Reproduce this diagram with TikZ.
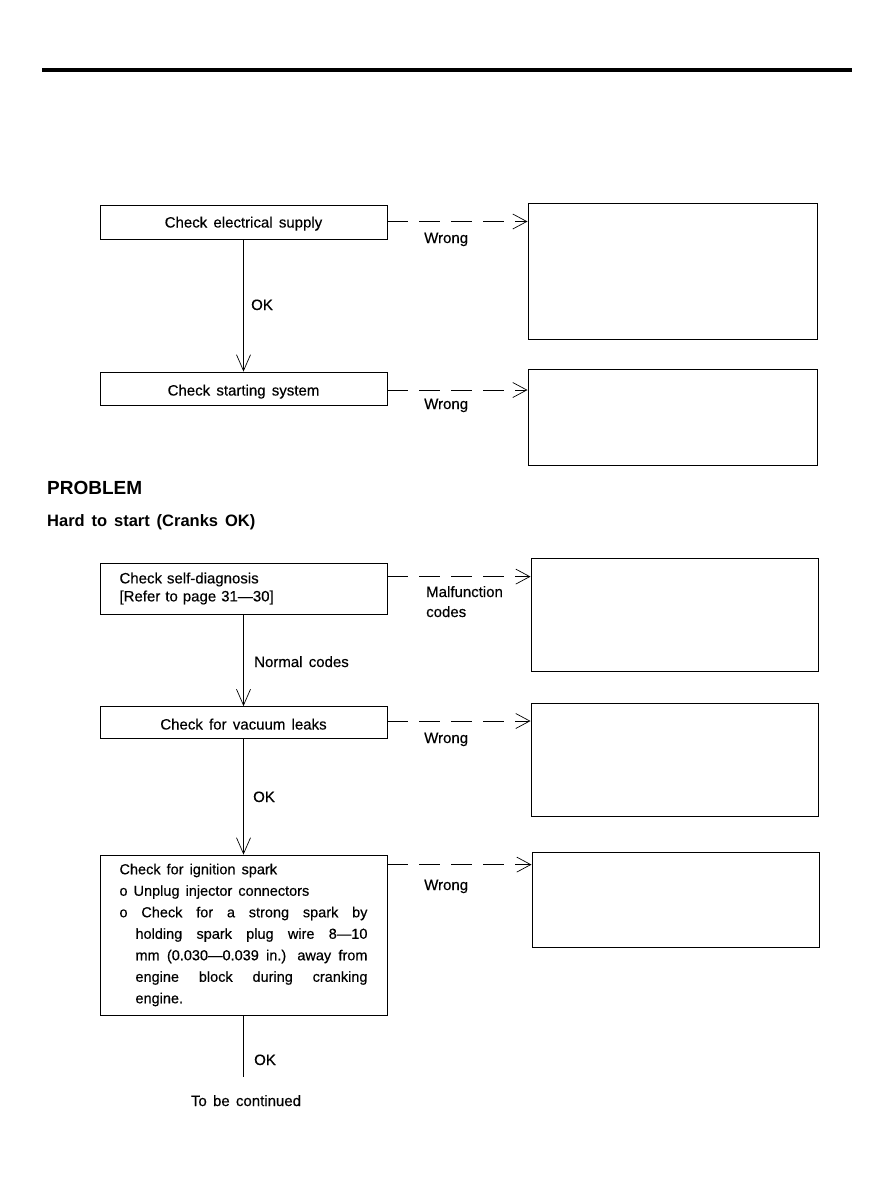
\documentclass[tikz,border=0pt]{standalone}
\usepackage{fontspec}
\setmainfont[WordSpace=1.5,UprightFeatures={FakeBold=0.35}]{Liberation Sans}
\usetikzlibrary{arrows.meta,calc}
\begin{document}
\begin{tikzpicture}[x=1pt,y=-1pt,
  box/.style={draw,line width=0.8pt,minimum width=287pt,inner sep=0pt,font=\fontsize{15}{18}\selectfont},
  rbox/.style={draw,line width=1pt,inner sep=0pt},
  lbl/.style={font=\fontsize{15}{18}\selectfont,inner sep=0pt},
  head/.style={font=\fontsize{19}{22}\selectfont\bfseries,inner sep=0pt},
  wrongarrow/.style={line width=0.7pt,dash pattern=on 21pt off 11pt,-{Straight Barb[length=14pt,width=15pt,line width=0.7pt]}},
  okarrow/.style={line width=0.7pt,-{Straight Barb[length=16pt,width=14pt,line width=0.7pt]}},
  okline/.style={line width=0.7pt},
]
\useasboundingbox (0,0) rectangle (890,1200);
\draw[line width=4pt] (42,70) coordinate (rl) -- (852,70) coordinate (rr);

% upper chart
\node[box,minimum height=34pt,text height=11pt,text depth=1pt] (b1) at (243.5,222.5) {Check electrical supply};
\node[box,minimum height=33pt,text height=14pt,text depth=0pt] (b2) at (243.5,388.5) {Check starting system};
\node[rbox,minimum width=289pt,minimum height=136pt] (r1) at (672.5,271) {};
\node[rbox,minimum width=289pt,minimum height=96pt] (r2) at (672.5,417) {};

\draw[okarrow] (b1.south) -- (b2.north);
\coordinate (w1) at ($(b1.east)+(0,-1)$);
\draw[wrongarrow] (w1) -- (w1 -| r1.west);
\coordinate (w2) at ($(b2.east)+(0,1.5)$);
\draw[wrongarrow] (w2) -- (w2 -| r2.west);

\node[lbl,anchor=base west] (ok1) at (251,310) {OK};
\node[lbl,anchor=base west] (wr1) at (424,243) {Wrong};
\node[lbl,anchor=base west] (wr2) at (424,409) {Wrong};

% headings
\node[head,anchor=base west] (prob) at (47,494.5) {PROBLEM};
\node[head,font=\fontsize{16.5}{20}\selectfont\bfseries,anchor=base west] (hard) at (47,526) {Hard to start (Cranks OK)};

% lower chart
\node[box,minimum height=51pt,text width=248pt,align=left,inner xsep=19.5pt] (b3) at (243.5,588.5) {Check self-diagnosis\\{}[Refer to page 31—30]};
\node[box,minimum height=32pt,text height=14pt,text depth=0pt] (b4) at (243.5,722.5) {Check for vacuum leaks};
\node[box,minimum height=160pt,text width=248pt,align=justify,inner xsep=19.5pt,font=\fontsize{14.5}{21.5}\selectfont] (b5) at (243.5,935) {\parindent=0pt\hyphenpenalty=10000\exhyphenpenalty=10000
Check for ignition spark\par
\hangindent=16pt\hangafter=1 o Unplug injector connectors\par
\hangindent=16pt\hangafter=1 o Check for a strong spark by\linebreak holding spark plug wire 8—10\linebreak mm (0.030—0.039 in.) away from\linebreak engine block during cranking\linebreak engine.\par};

\node[rbox,minimum width=287pt,minimum height=113pt] (r3) at (674.5,614.5) {};
\node[rbox,minimum width=287pt,minimum height=113pt] (r4) at (674.5,759.5) {};
\node[rbox,minimum width=287pt,minimum height=95pt] (r5) at (675.5,899.5) {};

\draw[okarrow] (b3.south) -- (b4.north);
\draw[okarrow] (b4.south) -- (b5.north);
\coordinate (end) at ($(b5.south)+(0,62)$);
\draw[okline] (b5.south) -- (end);

\coordinate (w3) at ($(b3.north east)+(0,14)$);
\draw[wrongarrow] (w3) -- (w3 -| r3.west);
\coordinate (w4) at ($(b4.east)+(0,-1.5)$);
\draw[wrongarrow] (w4) -- (w4 -| r4.west);
\coordinate (w5) at ($(b5.north east)+(0,10)$);
\draw[wrongarrow] (w5) -- (w5 -| r5.west);

\node[lbl,anchor=base west] (mal) at (426,597) {Malfunction};
\node[lbl,anchor=base west] (cod) at (426,617) {codes};
\node[lbl,anchor=base west] (norm) at (254,667) {Normal codes};
\node[lbl,anchor=base west] (wr4) at (424,743) {Wrong};
\node[lbl,anchor=base west] (ok2) at (253,802) {OK};
\node[lbl,anchor=base west] (wr5) at (424,890) {Wrong};
\node[lbl,anchor=base west] (ok3) at (254,1065) {OK};
\node[lbl,anchor=base] (cont) at (246,1106) {To be continued};
\end{tikzpicture}
\end{document}
